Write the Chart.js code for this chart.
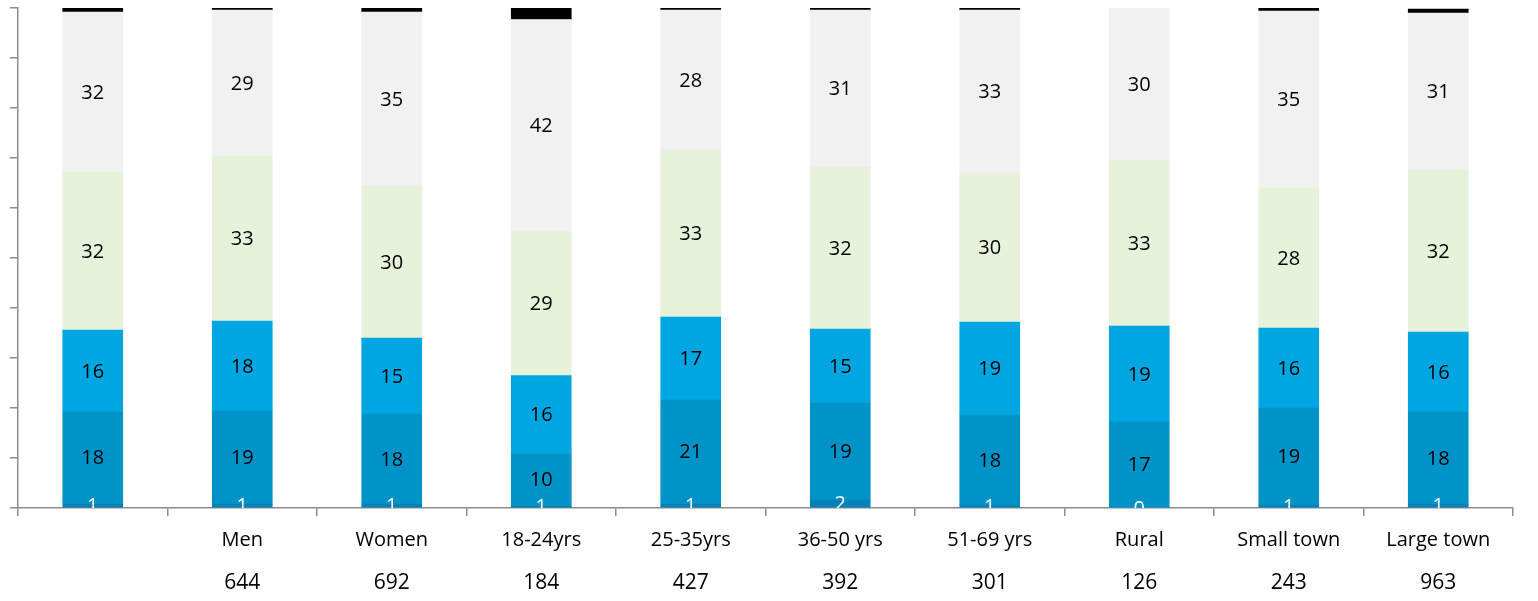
<!DOCTYPE html>
<html>
<head>
<meta charset="utf-8">
<script src="https://cdn.jsdelivr.net/npm/chart.js@4"></script>
<style>
    html, body { margin: 0; padding: 0; background: #fff; }
    #wrap { width: 1538px; height: 601px; }
</style>
</head>
<body>
<div id="wrap"><canvas id="myChart"></canvas></div>
<script>
// categorias e bases (n)
let categorias = ['', 'Men', 'Women', '18-24yrs', '25-35yrs', '36-50 yrs', '51-69 yrs', 'Rural', 'Small town', 'Large town'];
let bases = ['', '644', '692', '184', '427', '392', '301', '126', '243', '963'];

// valores (%) de baixo para cima
let serieBase = [0.9, 0.8, 0.8, 0.5, 0.9, 1.6, 0.6, 0, 0.6, 0.8];
let serieEscura = [18.3, 18.6, 18, 10.4, 20.7, 19.4, 18, 17.2, 19.4, 18.4];
let serieAzul = [16.4, 18, 15.2, 15.6, 16.6, 14.8, 18.6, 19.2, 16, 16];
let serieVerde = [31.6, 33, 30.4, 28.8, 33.4, 32.4, 29.8, 33.2, 28, 32.4];
let serieCinza = [32, 29.2, 34.8, 42.4, 28, 31.4, 32.6, 30.4, 35.4, 31.4];
let serieOutros = [0.8, 0.4, 0.8, 2.4, 0.4, 0.4, 0.4, 0, 0.6, 0.8];

let corEixo = '#8c8c8c';

// rótulos dentro das barras
const rotulos = {
    id: 'rotulos',
    afterDatasetsDraw(chart) {
        const ctx = chart.ctx;
        const area = chart.chartArea;
        ctx.save();
        ctx.beginPath();
        ctx.rect(area.left, area.top, area.right - area.left, area.bottom - area.top);
        ctx.clip();
        ctx.font = '20px "Open Sans"';
        ctx.textAlign = 'center';
        ctx.textBaseline = 'middle';
        chart.data.datasets.forEach((ds, i) => {
            if (ds.semRotulo) return;
            chart.getDatasetMeta(i).data.forEach((bar, j) => {
                let v = ds.data[j];
                ctx.fillStyle = ds.corTexto;
                ctx.fillText(Math.round(v), bar.x, (bar.y + bar.base) / 2 + 1);
            });
        });
        ctx.restore();
    }
};

const ctx = document.getElementById('myChart');

new Chart(ctx, {
    type: 'bar',
    data: {
        labels: categorias,
        datasets: [
            { label: 'base', data: serieBase, backgroundColor: '#0082B6', corTexto: '#ffffff' },
            { label: 'escura', data: serieEscura, backgroundColor: '#0093C8', corTexto: '#000000' },
            { label: 'azul', data: serieAzul, backgroundColor: '#00A6E1', corTexto: '#000000' },
            { label: 'verde', data: serieVerde, backgroundColor: '#E6F2DA', corTexto: '#000000' },
            { label: 'cinza', data: serieCinza, backgroundColor: '#F1F1F1', corTexto: '#000000' },
            { label: 'outros', data: serieOutros, backgroundColor: '#000000', semRotulo: true }
        ]
    },
    options: {
        responsive: true,
        maintainAspectRatio: false,
        animation: false,
        datasets: {
            bar: { barThickness: 60, borderWidth: 0 }
        },
        layout: {
            padding: { top: 8, right: 25, left: 0, bottom: 0 }
        },
        plugins: {
            legend: { display: false },
            tooltip: { enabled: false }
        },
        scales: {
            x: {
                stacked: true,
                weight: 0,
                border: { color: corEixo, width: 1.5 },
                grid: {
                    offset: true,
                    drawOnChartArea: false,
                    color: corEixo,
                    lineWidth: 1.5,
                    tickLength: 8
                },
                ticks: {
                    color: '#000',
                    padding: 12,
                    maxRotation: 0,
                    autoSkip: false,
                    font: { family: 'Open Sans', size: 20 }
                },
                afterFit: (scale) => { scale.height = 56; }
            },
            x2: {
                type: 'category',
                labels: bases,
                position: 'bottom',
                offset: true,
                weight: 1,
                border: { display: false },
                grid: { display: false, drawTicks: false },
                ticks: {
                    color: '#000',
                    padding: 6,
                    maxRotation: 0,
                    autoSkip: false,
                    font: { family: 'Open Sans', size: 21 }
                },
                afterFit: (scale) => { scale.height = 37; }
            },
            y: {
                stacked: true,
                min: 0,
                max: 100,
                border: { color: corEixo, width: 1.5 },
                grid: {
                    drawOnChartArea: false,
                    color: corEixo,
                    lineWidth: 1.5,
                    tickLength: 8
                },
                ticks: { display: false, stepSize: 10 },
                afterFit: (scale) => { scale.width = 18; }
            }
        }
    },
    plugins: [rotulos]
});
</script>
</body>
</html>
